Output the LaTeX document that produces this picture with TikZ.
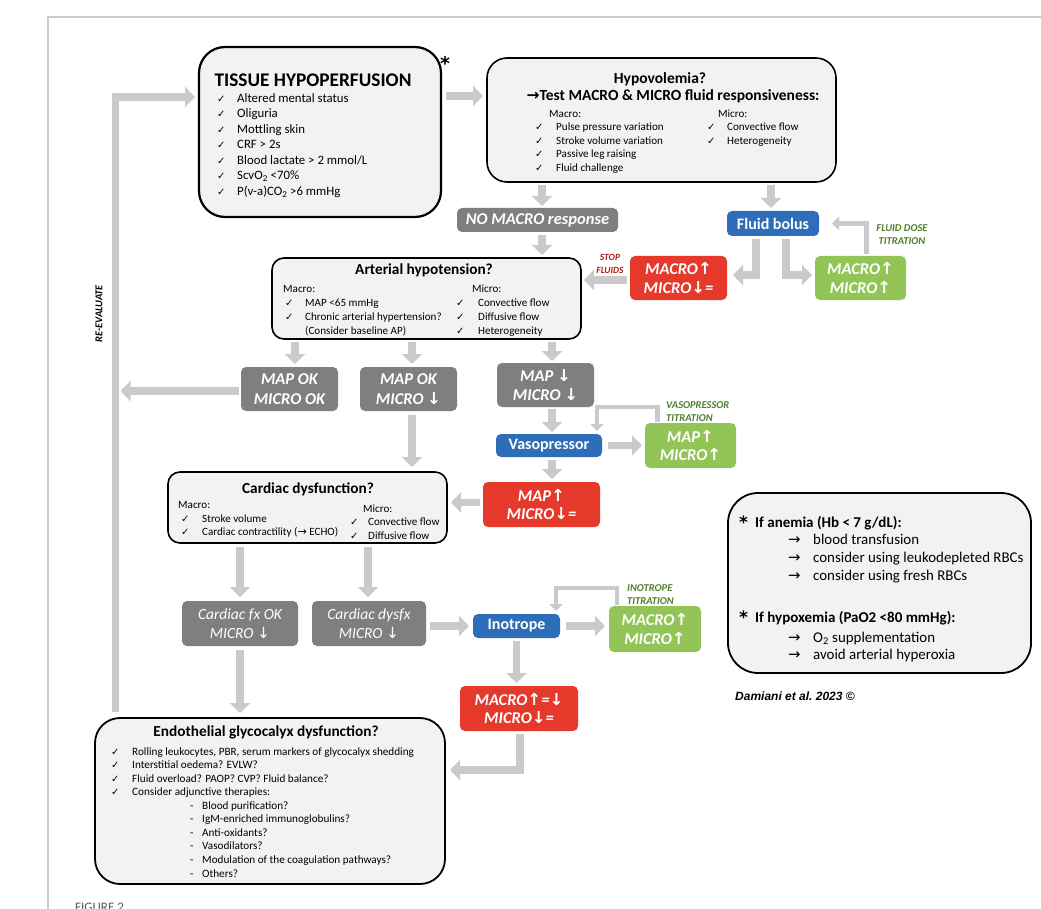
\documentclass[tikz,border=0pt]{standalone}
\usepackage{fontspec}
\setmainfont{Carlito}
\newfontfamily\symfont{DejaVu Sans}
\newfontfamily\arialfont{Liberation Sans}
\usetikzlibrary{arrows.meta,calc}
\definecolor{panelfill}{HTML}{F2F2F2}
\definecolor{boxgray}{HTML}{7F7F7F}
\definecolor{boxblue}{HTML}{2E6DB7}
\definecolor{boxred}{HTML}{E53A2B}
\definecolor{boxgreen}{HTML}{93C458}
\definecolor{arrgray}{HTML}{CACACA}
\definecolor{framegray}{HTML}{CCCCCC}
\definecolor{labgreen}{HTML}{4F7F2A}
\definecolor{labred}{HTML}{A8201A}
\newcommand\ck{{\symfont\fontsize{10}{10}\selectfont ✓}}
\newcommand\rarr{{\symfont →}}
\newcommand\uarr{{\symfont ↑}}
\newcommand\darr{{\symfont ↓}}
\newcommand\tisitem{\fontsize{12.8}{15}\selectfont}
\newcommand\boxitem{\fontsize{11.1}{13}\selectfont}
\newcommand\glyitem{\fontsize{11.2}{13}\selectfont}
\newcommand\noteitem{\fontsize{14.9}{17}\selectfont}
\newcommand\notehead{\bfseries\fontsize{15}{17}\selectfont}
\tikzset{
  panel/.style={draw=black, fill=panelfill, line width=1.6pt, inner sep=0pt, outer sep=0pt},
  cbox/.style={rounded corners=5pt, inner sep=0pt, outer sep=0pt, text=white, align=center},
  gbox/.style={cbox, fill=boxgray, font=\bfseries\itshape\fontsize{16.5}{19.5}\selectfont},
  gboxr/.style={cbox, fill=boxgray, font=\itshape\fontsize{15.5}{19}\selectfont},
  rbox/.style={cbox, fill=boxred, font=\bfseries\itshape\fontsize{16.5}{18.5}\selectfont},
  grbox/.style={cbox, fill=boxgreen, font=\bfseries\itshape\fontsize{16.5}{18.5}\selectfont},
  bbox/.style={cbox, fill=boxblue, font=\bfseries\fontsize{16}{18}\selectfont},
  txt/.style={inner sep=0pt, anchor=base west},
  ttl/.style={inner sep=0pt, anchor=base, font=\bfseries\fontsize{15.3}{17}\selectfont},
  astk/.style={inner sep=0pt, anchor=base west, font=\symfont\bfseries\fontsize{17}{17}\selectfont},
  fat/.style={draw=arrgray, line width=7.5pt, -{Triangle[length=10pt,width=20pt]}},
  thinloop/.style={draw=arrgray, line width=4.5pt, -{Triangle[length=7pt,width=13pt]}},
  lab/.style={inner sep=0pt, align=center, font=\bfseries\itshape\fontsize{10.5}{13}\selectfont},
}
\begin{document}
\begin{tikzpicture}[x=1pt,y=-1pt]
\useasboundingbox (0,0) rectangle (1041,909);
\fill[white] (0,0) rectangle (1041,909);
\draw[framegray, line width=1.5pt] (48,915) -- (48,17) -- (1045,17);
\node[txt, font=\fontsize{13}{13}\selectfont, text=black!65] (figlab) at (75,911) {FIGURE 2};

% ---------- panels ----------
\node[panel, line width=2.2pt, rounded corners=26pt, minimum width=242pt, minimum height=170pt] (tissue) at (320,132) {};
\node[panel, rounded corners=20pt, minimum width=349pt, minimum height=124pt] (hypo) at (661.5,120) {};
\node[panel, rounded corners=12pt, minimum width=309pt, minimum height=81pt] (art) at (426.5,298.5) {};
\node[panel, rounded corners=12pt, minimum width=279pt, minimum height=71pt] (card) at (307.5,507.5) {};
\node[panel, line width=1.8pt, rounded corners=25pt, minimum width=350pt, minimum height=166pt] (endo) at (270,801) {};
\node[panel, line width=1.8pt, rounded corners=30pt, minimum width=303pt, minimum height=180pt] (note) at (879.5,583) {};

% ---------- tissue ----------
\node[astk, font=\symfont\bfseries\fontsize{19}{19}\selectfont] (ast0) at (440,71) {*};
\node[ttl, font=\bfseries\fontsize{19.3}{20}\selectfont] (tistitle) at (313,87) {TISSUE HYPOPERFUSION};
\foreach \t [count=\i from 0] in {Altered mental status, Oliguria, Mottling skin, CRF > 2s, Blood lactate > 2 mmol/L, ScvO\textsubscript{2} <70\%, P(v-a)CO\textsubscript{2} >6 mmHg}{
  \node[txt, font=\tisitem] (tisc\i) at (217,102.5+15.5*\i) {\ck};
  \node[txt, font=\tisitem] (tist\i) at (237,102.5+15.5*\i) {\t};
}

% ---------- hypovolemia ----------
\node[ttl, font=\bfseries\fontsize{15.5}{17}\selectfont] (hyt1) at (660,84) {Hypovolemia?};
\node[ttl, font=\bfseries\fontsize{15.5}{17}\selectfont] (hyt2) at (673,101) {{\symfont →}Test MACRO \& MICRO fluid responsiveness:};
\node[txt, font=\boxitem] (hymac) at (549,118) {Macro:};
\foreach \t [count=\i from 0] in {Pulse pressure variation, Stroke volume variation, Passive leg raising, Fluid challenge}{
  \node[txt, font=\boxitem] (hyc\i) at (535,131+13.5*\i) {\ck};
  \node[txt, font=\boxitem] (hym\i) at (556,131+13.5*\i) {\t};
}
\node[txt, font=\boxitem] (hymic) at (718,118) {Micro:};
\foreach \t [count=\i from 0] in {Convective flow, Heterogeneity}{
  \node[txt, font=\boxitem] (hyd\i) at (707,131+13.5*\i) {\ck};
  \node[txt, font=\boxitem] (hyn\i) at (727,131+13.5*\i) {\t};
}

% ---------- arterial ----------
\node[ttl] (artt) at (424,275) {Arterial hypotension?};
\node[txt, font=\boxitem] (armac) at (283,292) {Macro:};
\foreach \t [count=\i from 0] in {MAP <65 mmHg, Chronic arterial hypertension?}{
  \node[txt, font=\boxitem] (arc\i) at (285,306.5+13.8*\i) {\ck};
  \node[txt, font=\boxitem] (arm\i) at (305,306.5+13.8*\i) {\t};
}
\node[txt, font=\boxitem] (arm2) at (305,334) {(Consider baseline AP)};
\node[txt, font=\boxitem] (armic) at (472,292) {Micro:};
\foreach \t [count=\i from 0] in {Convective flow, Diffusive flow, Heterogeneity}{
  \node[txt, font=\boxitem] (ard\i) at (456,306.5+13.8*\i) {\ck};
  \node[txt, font=\boxitem] (arn\i) at (478,306.5+13.8*\i) {\t};
}

% ---------- cardiac ----------
\node[ttl] (cardt) at (308,493) {Cardiac dysfunction?};
\node[txt, font=\boxitem] (camac) at (178,508) {Macro:};
\foreach \t [count=\i from 0] in {Stroke volume, Cardiac contractility ({\symfont →} ECHO)}{
  \node[txt, font=\boxitem] (cac\i) at (181,522+13.5*\i) {\ck};
  \node[txt, font=\boxitem] (cam\i) at (202,522+13.5*\i) {\t};
}
\node[txt, font=\boxitem] (camic) at (363,512) {Micro:};
\foreach \t [count=\i from 0] in {Convective flow, Diffusive flow}{
  \node[txt, font=\boxitem] (cad\i) at (350,525.5+13.5*\i) {\ck};
  \node[txt, font=\boxitem] (can\i) at (368,525.5+13.5*\i) {\t};
}

% ---------- endothelial ----------
\node[ttl] (endot) at (266,736) {Endothelial glycocalyx dysfunction?};
\foreach \t [count=\i from 0] in {{Rolling leukocytes, PBR, serum markers of glycocalyx shedding}, Interstitial oedema? EVLW?, Fluid overload? PAOP? CVP? Fluid balance?, Consider adjunctive therapies:}{
  \node[txt, font=\glyitem] (enc\i) at (111,755+13.5*\i) {\ck};
  \node[txt, font=\glyitem] (ent\i) at (132,755+13.5*\i) {\t};
}
\foreach \t [count=\i from 0] in {Blood purification?, IgM-enriched immunoglobulins?, Anti-oxidants?, Vasodilators?, Modulation of the coagulation pathways?, Others?}{
  \node[txt, font=\glyitem] (end\i) at (190,809+13.6*\i) {-};
  \node[txt, font=\glyitem] (ens\i) at (202,809+13.6*\i) {\t};
}

% ---------- note ----------
\node[astk] (ast1) at (739,528) {*};
\node[txt, font=\notehead] (nh1) at (755,527) {If anemia (Hb < 7 g/dL):};
\foreach \t [count=\i from 0] in {blood transfusion, consider using leukodepleted RBCs, consider using fresh RBCs}{
  \node[txt, font=\noteitem] (naa\i) at (788,544.5+18*\i) {\rarr};
  \node[txt, font=\noteitem] (nat\i) at (813,544.5+18*\i) {\t};
}
\node[astk] (ast2) at (739,623) {*};
\node[txt, font=\notehead] (nh2) at (755,622) {If hypoxemia (PaO2 <80 mmHg):};
\foreach \t [count=\i from 0] in {O\textsubscript{2} supplementation, avoid arterial hyperoxia}{
  \node[txt, font=\noteitem] (nba\i) at (788,642+17.5*\i) {\rarr};
  \node[txt, font=\noteitem] (nbt\i) at (813,642+17.5*\i) {\t};
}
\node[txt, font=\arialfont\bfseries\itshape\fontsize{12}{12}\selectfont] (credit) at (735,700) {Damiani et al.\ 2023 ©};

% ---------- coloured boxes ----------
\node[gbox, minimum width=161pt, minimum height=24pt] (nomacro) at (537.5,220) {NO MACRO response};
\node[bbox, minimum width=92pt, minimum height=25pt] (fb) at (773,223.5) {Fluid bolus};
\node[rbox, minimum width=97pt, minimum height=44pt] (red1) at (678.5,278) {MACRO\uarr\\MICRO\darr=};
\node[grbox, minimum width=91pt, minimum height=44pt] (green1) at (860.5,278) {MACRO\uarr\\MICRO\uarr};
\node[gbox, minimum width=97pt, minimum height=44pt] (m1) at (289.5,389) {MAP OK\\MICRO OK};
\node[gbox, minimum width=97pt, minimum height=44pt] (m2) at (408.5,389) {MAP OK\\MICRO \darr};
\node[gbox, minimum width=97pt, minimum height=44pt] (m3) at (545.5,385) {MAP \darr\\MICRO \darr};
\node[bbox, minimum width=106pt, minimum height=23pt] (vaso) at (549,445.5) {Vasopressor};
\node[grbox, minimum width=91pt, minimum height=45pt] (green2) at (690.5,445.5) {MAP\uarr\\MICRO\uarr};
\node[rbox, minimum width=117pt, minimum height=45pt] (red2) at (541.5,504.5) {MAP\uarr\\MICRO\darr=};
\node[gboxr, minimum width=116pt, minimum height=45pt] (c1) at (240,623.5) {Cardiac fx OK\\MICRO \darr};
\node[gboxr, minimum width=114pt, minimum height=45pt] (c2) at (369,623.5) {Cardiac dysfx\\MICRO \darr};
\node[bbox, minimum width=87pt, minimum height=24pt] (ino) at (516.5,626) {Inotrope};
\node[grbox, minimum width=92pt, minimum height=46pt] (green3) at (655,629) {MACRO\uarr\\MICRO\uarr};
\node[rbox, minimum width=118pt, minimum height=45pt] (red3) at (519,708.5) {MACRO\uarr=\darr\\MICRO\darr=};

% ---------- labels ----------
\node[lab, text=labred, font=\bfseries\itshape\fontsize{9.5}{13}\selectfont] (stopl) at (610,264) {STOP\\FLUIDS};
\node[lab, text=labgreen] (fdtl) at (902,234.5) {FLUID DOSE\\TITRATION};
\node[lab, text=labgreen, anchor=west, align=left] (vtl) at (666,411.5) {VASOPRESSOR\\TITRATION};
\node[lab, text=labgreen, anchor=west, align=left] (itl) at (627,594.5) {INOTROPE\\TITRATION};
\node[rotate=90, inner sep=0pt, font=\bfseries\itshape\fontsize{10.5}{10}\selectfont] (reeval) at (99,314) {RE-EVALUATE};

% ---------- connectors ----------
\coordinate (rtop) at (115.5,97);
\draw[fat, line join=miter] ($(endo.north -| rtop)+(0,-6)$) -- (rtop) -- ($(tissue.west |- rtop)+(-4,0)$);
\draw[fat] ($(m1.west)+(-2,2)$) -- ($(rtop |- m1.west)+(5,2)$);
\draw[fat] ($(tissue.east)+(5,-36)$) -- ($(hypo.west)+(-4,-24)$);
\draw[fat] ($(nomacro.north |- hypo.south)+(4.5,3)$) -- ($(nomacro.north)+(4.5,-2)$);
\draw[fat] ($(nomacro.south)+(4.5,3)$) -- ($(nomacro.south |- art.north)+(4.5,-3)$);
\draw[fat] ($(fb.north |- hypo.south)+(-2,3)$) -- ($(fb.north)+(-2,-3)$);
\draw[fat] ($(fb.south)+(-17,3)$) |- ($(red1.east)+(6,-3)$);
\draw[fat] ($(fb.south)+(13,3)$) |- ($(green1.west)+(-3,-3)$);
\draw[thinloop] ($(green1.north)+(6,-2)$) |- ($(fb.east)+(13,0)$);
\draw[fat] ($(red1.west)+(-3,2)$) -- ($(art.east |- red1.west)+(3,2)$);
\draw[fat] ($(m1.north |- art.south)+(5.5,3)$) -- ($(m1.north)+(5.5,-3)$);
\draw[fat] ($(m2.north |- art.south)+(3.5,3)$) -- ($(m2.north)+(3.5,-3)$);
\draw[fat] ($(m3.north |- art.south)+(6.5,3)$) -- ($(m3.north)+(6.5,-2)$);
\draw[fat] ($(m2.south)+(3.5,4)$) -- ($(m2.south |- card.north)+(3.5,-5)$);
\draw[fat] ($(m3.south)+(6.5,2)$) -- ($(vaso.north)+(3,-2)$);
\draw[fat] ($(vaso.east)+(6,0)$) -- ($(green2.west)+(-3,0)$);
\draw[thinloop] ($(green2.north)+(-33,-1)$) |- ($(vaso.north east)+(-5,-27)$) -- ($(vaso.north east)+(-5,-3)$);
\draw[fat] ($(vaso.south)+(3,3)$) -- ($(red2.north)+(10.5,-3)$);
\draw[fat] ($(red2.west)+(-3,-2)$) -- ($(card.east |- red2.west)+(4,-2)$);
\draw[fat] ($(c1.north |- card.south)+(0,4)$) -- ($(c1.north)+(0,-4)$);
\draw[fat] ($(c2.north |- card.south)+(-1,4)$) -- ($(c2.north)+(-1,-4)$);
\draw[fat] ($(c2.east)+(4,2.5)$) -- ($(ino.west)+(-4,0)$);
\draw[fat] ($(ino.east)+(6,0)$) -- ($(green3.west)+(-4,-3)$);
\draw[thinloop] ($(green3.north)+(-38,-1)$) |- ($(ino.north east)+(-4,-26)$) -- ($(ino.north east)+(-4,-3)$);
\draw[fat] ($(ino.south)+(0,3)$) -- ($(red3.north)+(-2.5,-3)$);
\draw[fat] ($(c1.south)+(0,4)$) -- ($(c1.south |- endo.north)+(0,-5)$);
\draw[fat] ($(red3.south)+(1,3)$) |- ($(endo.east)+(5,-31)$);
\end{tikzpicture}
\end{document}
